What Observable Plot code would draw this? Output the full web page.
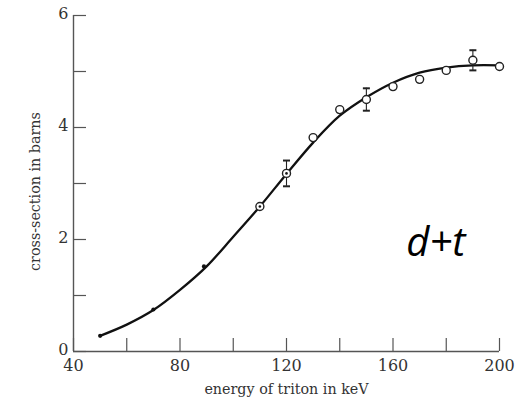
<!DOCTYPE html>
<html><head><meta charset="utf-8">
<script src="https://cdn.jsdelivr.net/npm/d3@7"></script>
<script src="https://cdn.jsdelivr.net/npm/@observablehq/plot@0.6"></script>
<style>body{margin:0;background:#fff}</style>
</head><body><div id="chart"></div>
<script>
// smooth fitted curve
const curveE = [50, 60, 70, 80, 90, 100, 110, 120, 130, 140, 150, 160, 170, 180, 190, 200];
const curveS = [0.28, 0.48, 0.74, 1.10, 1.52, 2.05, 2.59, 3.17, 3.73, 4.21, 4.54, 4.80, 4.98, 5.07, 5.11, 5.11];
// small filled points
const dotE = [50, 70, 89];
const dotS = [0.28, 0.75, 1.52];
// open circles
const ringE = [110, 120, 130, 140, 150, 160, 170, 180, 190, 200];
const ringS = [2.59, 3.18, 3.82, 4.32, 4.50, 4.73, 4.86, 5.02, 5.20, 5.09];
// circles with a centre dot
const centreE = [110, 120];
const centreS = [2.59, 3.18];
// error bars
const errE = [120, 150, 190];
const errS = [3.18, 4.50, 5.20];
const errD = [0.23, 0.20, 0.18];
// axes
const xTicks = [40, 60, 80, 100, 120, 140, 160, 180, 200];
const xLabels = [40, 80, 120, 160, 200];
const yTicks = [0, 1, 2, 3, 4, 5, 6];
const yLabels = [0, 2, 4, 6];
const annot = [{x: 165, y: 1.71, text: "d+t"}];

const curve = curveE.map((e, i) => ({e, s: curveS[i]}));
const dots = dotE.map((e, i) => ({e, s: dotS[i]}));
const rings = ringE.map((e, i) => ({e, s: ringS[i]}));
const centres = centreE.map((e, i) => ({e, s: centreS[i]}));
const errs = errE.map((e, i) => ({e, lo: errS[i] - errD[i], hi: errS[i] + errD[i]}));

const hline = {draw(ctx, size) { const w = Math.sqrt(size) * 0.9; ctx.moveTo(-w, 0); ctx.lineTo(w, 0); }};

const axisColor = "#555";
const chart = Plot.plot({
  width: 522, height: 400,
  marginLeft: 73, marginRight: 23, marginTop: 15, marginBottom: 49,
  x: {domain: [40, 200]},
  y: {domain: [0, 6]},
  style: {fontFamily: "DejaVu Serif", fontSize: "15px", color: "#333", background: "#fff"},
  marks: [
    Plot.ruleY([0], {stroke: axisColor, strokeWidth: 1.4}),
    Plot.ruleX([40], {stroke: axisColor, strokeWidth: 1.4}),
    Plot.axisX({ticks: xTicks, tickSize: -13, tickFormat: () => "", label: null, stroke: axisColor, strokeWidth: 1.2}),
    Plot.axisX({ticks: xLabels, tickSize: 0, tickPadding: 8, tickFormat: "d", label: null, fontSize: 16, fill: "#333"}),
    Plot.axisY({ticks: yTicks, tickSize: -13, tickFormat: () => "", label: null, stroke: axisColor, strokeWidth: 1.2}),
    Plot.axisY({ticks: yLabels, tickSize: 0, tickPadding: 5, dy: -2, tickFormat: "d", label: null, fontSize: 16, fill: "#333"}),
    Plot.text(["energy of triton in keV"], {frameAnchor: "bottom", dy: 42, lineAnchor: "bottom", fontSize: 14.3, fill: "#333"}),
    Plot.text(["cross-section in barns"], {frameAnchor: "left", dx: -38, dy: 8, rotate: -90, textAnchor: "middle", fontSize: 14.3, fill: "#333"}),
    Plot.line(curve, {x: "e", y: "s", curve: "catmull-rom", stroke: "#111", strokeWidth: 2.3}),
    Plot.ruleX(errs, {x: "e", y1: "lo", y2: "hi", stroke: "#222", strokeWidth: 1.1}),
    Plot.dot(errs, {x: "e", y: "lo", symbol: hline, r: 2.2, stroke: "#222", strokeWidth: 2}),
    Plot.dot(errs, {x: "e", y: "hi", symbol: hline, r: 2.2, stroke: "#222", strokeWidth: 2}),
    Plot.dot(rings, {x: "e", y: "s", r: 4, fill: "white", stroke: "#222", strokeWidth: 1.4}),
    Plot.dot(centres, {x: "e", y: "s", r: 1.3, fill: "#111", stroke: "none"}),
    Plot.dot(dots, {x: "e", y: "s", r: 2.1, fill: "#111", stroke: "none"}),
    Plot.text(annot, {x: "x", y: "y", text: "text", textAnchor: "start", lineAnchor: "bottom", fontFamily: "Open Sans", fontStyle: "italic", fontSize: 40, fill: "#000"})
  ]
});
document.getElementById("chart").append(chart);
</script>
</body></html>
